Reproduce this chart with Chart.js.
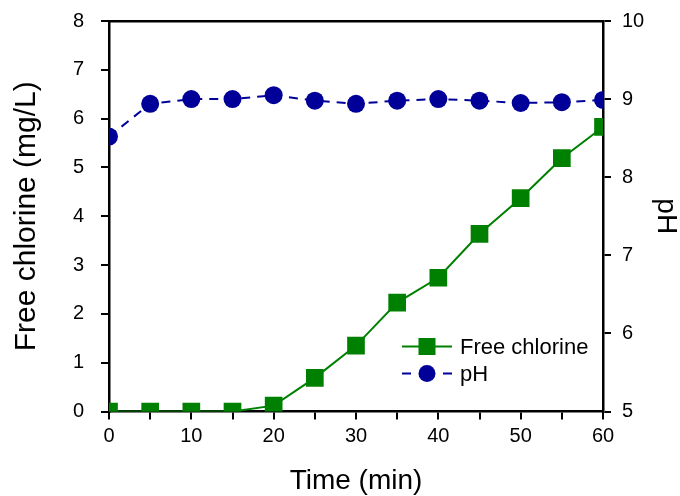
<!DOCTYPE html>
<html>
<head>
<meta charset="utf-8">
<script src="https://cdn.jsdelivr.net/npm/chart.js@4.4.0/dist/chart.umd.min.js"></script>
<style>
	html, body { margin: 0; padding: 0; background: #fff; }
</style>
</head>
<body>
<canvas id="chlorineChart" width="680" height="496"></canvas>
<script>
// data
const times = [0, 5, 10, 15, 20, 25, 30, 35, 40, 45, 50, 55, 60];
const freeChlorine = [0, 0, 0, 0, 0.12, 0.69, 1.35, 2.23, 2.74, 3.64, 4.37, 5.19, 5.83];
const phValues = [8.52, 8.94, 9.0, 9.0, 9.05, 8.98, 8.94, 8.98, 9.0, 8.98, 8.95, 8.96, 8.99];
const seriesNames = ['Free chlorine', 'pH'];

const FONT = '"Liberation Sans", Arial, sans-serif';
const GREEN = '#008000';
const BLUE = '#000099';

// legend drawn inside the plot, bottom right
const insideLegend = {
	id: 'insideLegend',
	afterDraw(chart) {
		const { ctx, chartArea } = chart;
		const x0 = chartArea.right - 201;
		const x1 = x0 + 50;
		const rows = [chartArea.bottom - 65, chartArea.bottom - 38];
		ctx.save();
		chart.data.datasets.forEach((ds, i) => {
			const y = rows[i];
			ctx.strokeStyle = ds.borderColor;
			ctx.lineWidth = ds.borderWidth;
			ctx.beginPath();
			if (ds.borderDash) {
				// dashed series: short stub each side of the marker
				ctx.moveTo(x0, y); ctx.lineTo(x0 + 9, y);
				ctx.moveTo(x1 - 9, y); ctx.lineTo(x1, y);
			} else {
				ctx.moveTo(x0, y); ctx.lineTo(x1, y);
			}
			ctx.stroke();
			ctx.fillStyle = ds.pointBackgroundColor;
			const cx = (x0 + x1) / 2;
			if (ds.pointStyle === 'rect') {
				ctx.fillRect(cx - 8.5, y - 8.5, 17, 17);
			} else {
				ctx.beginPath();
				ctx.arc(cx, y, 8.5, 0, Math.PI * 2);
				ctx.fill();
			}
			ctx.fillStyle = '#000';
			ctx.font = '22px ' + FONT;
			ctx.textAlign = 'left';
			ctx.textBaseline = 'middle';
			ctx.fillText(ds.label, x1 + 8, y + 1);
		});
		ctx.restore();
	},
};

const axisLine = { color: '#000', width: 2.5 };
const tickMarks = { drawOnChartArea: false, tickLength: 8, lineWidth: 2, color: '#000' };

const ctx = document.getElementById('chlorineChart').getContext('2d');
const chlorineChart = new Chart(ctx, {
	type: 'line',
	data: {
		datasets: [{
			label: seriesNames[0],
			data: times.map((t, i) => ({ x: t, y: freeChlorine[i] })),
			borderColor: GREEN,
			borderWidth: 2,
			pointStyle: 'rect',
			pointRadius: 12.5,
			pointBorderWidth: 0,
			pointBackgroundColor: GREEN,
			tension: 0,
			clip: 0,
			yAxisID: 'y',
		}, {
			label: seriesNames[1],
			data: times.map((t, i) => ({ x: t, y: phValues[i] })),
			borderColor: BLUE,
			borderWidth: 2,
			borderDash: [9, 7],
			pointStyle: 'circle',
			pointRadius: 9,
			pointBorderWidth: 0,
			pointBackgroundColor: BLUE,
			tension: 0,
			clip: 0,
			yAxisID: 'y1',
		}],
	},
	options: {
		responsive: false,
		animation: false,
		devicePixelRatio: 1,
		layout: { padding: 0 },
		plugins: {
			legend: { display: false },
			tooltip: { enabled: false },
		},
		scales: {
			x: {
				type: 'linear',
				position: 'bottom',
				min: 0,
				max: 60,
				z: 1,
				afterFit: (scale) => { scale.height = 84.5; },
				ticks: {
					stepSize: 5,
					autoSkip: false,
					maxRotation: 0,
					padding: 5,
					color: '#000',
					font: { family: FONT, size: 20 },
					callback: (v) => (v % 10 === 0 ? v : ''),
				},
				grid: tickMarks,
				border: axisLine,
				title: {
					display: true,
					text: 'Time (min)',
					color: '#000',
					font: { family: FONT, size: 28 },
					padding: { top: 0, bottom: -2 },
				},
			},
			xTop: {
				type: 'linear',
				position: 'top',
				min: 0,
				max: 60,
				z: 1,
				afterFit: (scale) => { scale.height = 21; },
				ticks: { display: false },
				grid: { display: false, drawTicks: false },
				border: axisLine,
			},
			y: {
				type: 'linear',
				position: 'left',
				min: 0,
				max: 8,
				z: 1,
				afterFit: (scale) => {
					scale.width = 109;
					scale.paddingTop = 0;
					scale.paddingBottom = 0;
				},
				ticks: {
					stepSize: 1,
					padding: 17,
					color: '#000',
					font: { family: FONT, size: 20 },
				},
				grid: tickMarks,
				border: axisLine,
				title: {
					display: true,
					text: 'Free chlorine (mg/L)',
					color: '#000',
					font: { family: FONT, size: 30 },
					padding: { top: 9, bottom: 0 },
				},
			},
			y1: {
				type: 'linear',
				position: 'right',
				min: 5,
				max: 10,
				z: 1,
				afterFit: (scale) => {
					scale.width = 77;
					scale.paddingTop = 0;
					scale.paddingBottom = 0;
				},
				ticks: {
					stepSize: 1,
					padding: 11,
					color: '#000',
					font: { family: FONT, size: 20 },
				},
				grid: tickMarks,
				border: axisLine,
				title: {
					display: true,
					text: 'pH',
					color: '#000',
					font: { family: FONT, size: 28 },
					padding: { top: -3, bottom: 0 },
				},
			},
		},
	},
	plugins: [insideLegend],
});
</script>
</body>
</html>
